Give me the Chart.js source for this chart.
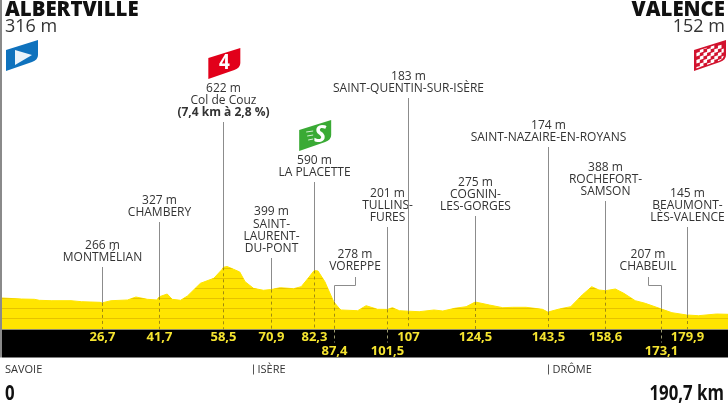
<!DOCTYPE html>
<html>
<head>
<meta charset="utf-8">
<title>Albertville - Valence</title>
<script src="https://cdn.jsdelivr.net/npm/chart.js@4/dist/chart.umd.min.js"></script>
<style>
  html, body { margin: 0; padding: 0; background: #fff; }
  #wrap { width: 728px; height: 406px; overflow: hidden; }
</style>
</head>
<body>
<div id="wrap"><canvas id="profile" width="728" height="406"></canvas></div>
<script>
// ---------- Road profile ----------
const profileKm = [0,5.6,9,10.3,13.4,18.6,21.3,26.2,26.7,29.1,33.4,35.6,38.6,41.1,41.7,43.8,45.1,47.3,49.1,52.5,56,58.2,58.5,59.5,61.2,62.8,64.2,66.4,69,70.9,73.4,76.9,78.9,80.7,82.3,83.3,85.1,87.4,89,89.4,93.7,95.9,98.9,101.5,102.8,104.6,107,109.8,113.7,116,119.1,122.1,124.5,128.2,131.7,134.3,137.8,142.1,143.5,146.5,149.5,152.5,155,156.9,158.6,161.2,163.4,166.4,169,173.1,176,179.9,183,187.7,190.7];
const profileAlt = [316,305,302,292,288,288,278,272,266,288,295,325,302,295,327,355,302,292,335,462,512,602,622,630,602,575,478,412,392,399,418,408,428,512,590,585,478,278,205,195,188,238,202,201,218,188,183,178,195,185,212,228,275,245,218,222,222,202,174,205,228,345,428,395,388,405,362,288,262,207,168,145,138,155,152];

// ---------- Waypoints ----------
const waypointKm = [26.7,41.7,58.5,70.9,82.3,87.4,101.5,107,124.5,143.5,158.6,173.1,179.9];
const waypointKmText = ['26,7','41,7','58,5','70,9','82,3','87,4','101,5','107','124,5','143,5','158,6','173,1','179,9'];
const waypointAlt = [266,327,622,399,590,278,201,183,275,174,388,207,145];
const waypointNames = [
  ['MONTMÉLIAN'],
  ['CHAMBERY'],
  ['Col de Couz'],
  ['SAINT-','LAURENT-','DU-PONT'],
  ['LA PLACETTE'],
  ['VOREPPE'],
  ['TULLINS-','FURES'],
  ['SAINT-QUENTIN-SUR-ISÈRE'],
  ['COGNIN-','LES-GORGES'],
  ['SAINT-NAZAIRE-EN-ROYANS'],
  ['ROCHEFORT-','SAMSON'],
  ['CHABEUIL'],
  ['BEAUMONT-','LÈS-VALENCE']
];
const climbNote = '(7,4 km à 2,8 %)';

const regionNames = ['SAVOIE','ISÈRE','DRÔME'];
const regionKm = [null,66.3,143.5];
const gridAlts = [100,200,300,400,500,600];

// ---------- Layout (pixels) ----------
const stemTop = [267,222,122,258,182,285,227,98,216,147,201,285,227];
const lowerRow = [false,false,false,false,false,true,true,false,false,false,false,true,false];
const leaderTextX = { 5: 355, 11: 648 };   // labels pushed aside with an elbow
const BAND_H = 28;
const LINE_H = 12.4;
const FONT = '"Open Sans", sans-serif';
const NARROW = '"Liberation Sans Narrow", "Open Sans", sans-serif';
const TEXT = '#333333';
const YELLOW = '#ffe500';
const GRID = '#e6c200';
const STEM = '#8c8c8c';

function put(c, str, x, y, font, color, align) {
  c.font = font;
  c.fillStyle = color;
  c.textAlign = align || 'center';
  c.textBaseline = 'middle';
  c.fillText(str, x, y);
}

// same as put, squeezed horizontally for the condensed figures
function putSqueezed(c, str, x, y, font, color, align, sx) {
  c.save();
  c.translate(x, y);
  c.scale(sx, 1);
  put(c, str, 0, 0, font, color, align);
  c.restore();
}

// pennant shape shared by the start, climb, sprint and finish flags
function flagPath(c, x, y) {
  c.beginPath();
  c.moveTo(x, y + 10);
  c.lineTo(x + 32, y);
  c.lineTo(x + 32, y + 15);
  c.quadraticCurveTo(x + 32, y + 20, x + 26, y + 22);
  c.lineTo(x, y + 31);
  c.closePath();
}

function drawFlags(c, xs) {
  // start
  flagPath(c, 6, 40);
  c.fillStyle = '#0f72bd';
  c.fill();
  c.beginPath();
  c.moveTo(15, 50); c.lineTo(32, 55); c.lineTo(15, 65); c.closePath();
  c.fillStyle = '#eaf3fa';
  c.fill();

  // category 4 climb
  const rx = xs.getPixelForValue(waypointKm[2]) - 15;
  flagPath(c, rx, 48);
  c.fillStyle = '#e2001a';
  c.fill();
  putSqueezed(c, '4', rx + 16, 63, 'bold 21px ' + NARROW, '#fff', 'center', 0.9);

  // intermediate sprint
  const gx = xs.getPixelForValue(waypointKm[4]) - 15;
  flagPath(c, gx, 120);
  c.fillStyle = '#3aaa35';
  c.fill();
  put(c, 'S', gx + 21, 135, 'italic bold 23px ' + NARROW, '#fff');
  c.strokeStyle = '#d6f0d4';
  c.lineWidth = 1;
  [131, 135, 139].forEach((y, i) => {
    c.beginPath();
    c.moveTo(gx + 7 + i, y + 1);
    c.lineTo(gx + 14, y);
    c.stroke();
  });

  // finish, checkered inside a red edge
  c.save();
  flagPath(c, 694, 40);
  c.fillStyle = '#d2122e';
  c.fill();
  c.translate(710, 55.5);
  c.scale(0.86, 0.84);
  c.translate(-710, -55.5);
  flagPath(c, 694, 40);
  c.clip();
  c.fillStyle = '#fff';
  for (let i = 0; i < 8; i++) {
    for (let j = 0; j < 8; j++) {
      if ((i + j) % 2) continue;
      c.save();
      c.transform(1, -0.31, 0, 1, 694 + i * 4.2, 50 + j * 4.2 - 6);
      c.fillRect(0, 0, 4.2, 4.2);
      c.restore();
    }
  }
  c.restore();
}

const profilePainter = {
  id: 'profilePainter',
  beforeDatasetsDraw(chart) {
    const c = chart.ctx, a = chart.chartArea;
    c.save();
    c.fillStyle = '#000';
    c.fillRect(2, a.bottom, 726, BAND_H);
    c.restore();
  },
  afterDatasetsDraw(chart) {
    const c = chart.ctx, a = chart.chartArea;
    const xs = chart.scales.x, ys = chart.scales.y;
    const pts = chart.getDatasetMeta(0).data;

    c.fillStyle = '#8a8a8a';
    c.fillRect(0, 0, 2, a.bottom + BAND_H);

    // altitude rules, visible only inside the filled profile
    c.save();
    c.beginPath();
    c.moveTo(pts[0].x, a.bottom);
    pts.forEach(p => c.lineTo(p.x, p.y));
    c.lineTo(pts[pts.length - 1].x, a.bottom);
    c.closePath();
    c.clip();
    c.strokeStyle = GRID;
    c.lineWidth = 1;
    gridAlts.forEach(v => {
      const y = Math.floor(ys.getPixelForValue(v)) - 0.5;
      c.beginPath();
      c.moveTo(2, y);
      c.lineTo(728, y);
      c.stroke();
    });
    c.restore();

    // waypoint stems and labels
    waypointKm.forEach((km, i) => {
      const x = Math.round(xs.getPixelForValue(km)) + 0.5;
      const yTop = ys.getPixelForValue(waypointAlt[i]);
      c.save();
      c.lineWidth = 1;
      c.strokeStyle = STEM;
      c.beginPath();
      if (leaderTextX[i] !== undefined) {
        const tx = Math.round(leaderTextX[i]) + 0.5;
        c.moveTo(tx, stemTop[i] - 8);
        c.lineTo(tx, stemTop[i] + 0.5);
        c.lineTo(x, stemTop[i] + 0.5);
      } else {
        c.moveTo(x, stemTop[i]);
      }
      c.lineTo(x, yTop);
      c.stroke();

      c.strokeStyle = '#a08a10';
      c.setLineDash([3, 3]);
      c.beginPath();
      c.moveTo(x, yTop);
      c.lineTo(x, a.bottom);
      c.stroke();
      if (lowerRow[i]) {
        c.strokeStyle = '#9a9a70';
        c.beginPath();
        c.moveTo(x, a.bottom);
        c.lineTo(x, a.bottom + 13);
        c.stroke();
      }
      c.restore();

      // km mark in the black band
      const kmY = a.bottom + (lowerRow[i] ? 22 : 8);
      put(c, waypointKmText[i], x, kmY, 'bold 13px ' + NARROW, '#f5e430');

      // name block above the stem
      const tx = leaderTextX[i] !== undefined ? leaderTextX[i] : x;
      const names = waypointNames[i];
      const lines = i === 2 ? names.length + 1 : names.length;
      const bottomY = stemTop[i] - (leaderTextX[i] !== undefined ? 18 : 9);
      let y = bottomY - (lines - 1) * LINE_H;
      put(c, waypointAlt[i] + ' m', tx, y - LINE_H, '12px ' + FONT, TEXT);
      names.forEach(n => {
        put(c, n, tx, y, '12px ' + FONT, TEXT);
        y += LINE_H;
      });
      if (i === 2) put(c, climbNote, tx, y, 'bold 12px ' + FONT, TEXT);
    });

    // towns and altitudes at both ends
    put(c, 'ALBERTVILLE', 5, 10, '800 20.4px ' + FONT, '#111', 'left');
    put(c, profileAlt[0] + ' m', 5, 27, '18px ' + FONT, TEXT, 'left');
    put(c, 'VALENCE', 725, 10, '800 20.4px ' + FONT, '#111', 'right');
    put(c, profileAlt[profileAlt.length - 1] + ' m', 725, 27, '18px ' + FONT, TEXT, 'right');

    drawFlags(c, xs);

    // regions crossed
    const base = a.bottom + 40;
    put(c, regionNames[0], 5, base, '11px ' + FONT, TEXT, 'left');
    [1, 2].forEach(i => {
      const rx = Math.round(xs.getPixelForValue(regionKm[i])) + 0.5;
      c.strokeStyle = '#555';
      c.lineWidth = 1;
      c.beginPath();
      c.moveTo(rx, base - 5);
      c.lineTo(rx, base + 5);
      c.stroke();
      put(c, regionNames[i], rx + 4, base, '11px ' + FONT, TEXT, 'left');
    });

    // distance scale ends
    putSqueezed(c, '0', 5, a.bottom + 65, 'bold 21px ' + NARROW, '#111', 'left', 0.8);
    putSqueezed(c, profileKm[profileKm.length - 1].toString().replace('.', ',') + ' km', 724, a.bottom + 65, 'bold 21px ' + NARROW, '#111', 'right', 0.8);
  }
};

new Chart(document.getElementById('profile').getContext('2d'), {
  type: 'line',
  data: {
    datasets: [{
      data: profileKm.map((km, i) => ({ x: km, y: profileAlt[i] })),
      backgroundColor: YELLOW,
      borderColor: YELLOW,
      borderWidth: 1,
      pointRadius: 0,
      tension: 0,
      fill: 'origin'
    }]
  },
  options: {
    responsive: false,
    animation: false,
    layout: { padding: { left: -1.5, right: -2, top: 0, bottom: 76.5 } },
    plugins: { legend: { display: false }, tooltip: { enabled: false } },
    scales: {
      x: { type: 'linear', display: false, min: 0, max: 190.7 },
      y: { display: false, min: 0, max: 3295 }
    }
  },
  plugins: [profilePainter]
});
</script>
</body>
</html>
